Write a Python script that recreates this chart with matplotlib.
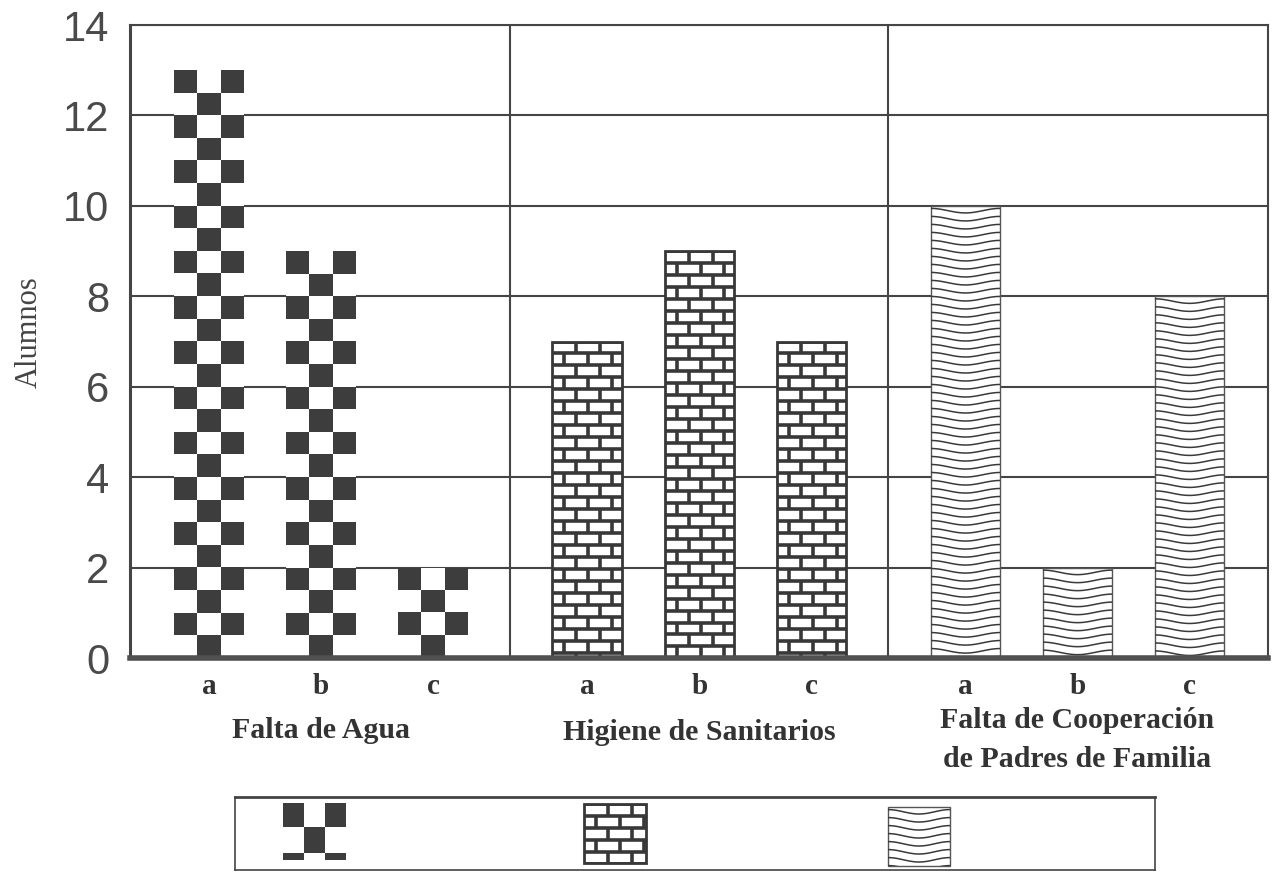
import numpy as np
import matplotlib
matplotlib.use('Agg')
import matplotlib.pyplot as plt
from matplotlib.collections import LineCollection
from matplotlib.patches import Rectangle
from matplotlib.transforms import blended_transform_factory

# datos
grupos = ['Falta de Agua', 'Higiene de Sanitarios',
          'Falta de Cooperación\nde Padres de Familia']
letras = ['a', 'b', 'c']
agua = [13, 9, 2]
higiene = [7, 9, 7]
cooperacion = [10, 2, 8]
yticks = [0, 2, 4, 6, 8, 10, 12, 14]

DARK = '#3d3d3d'
LINE = '#383838'
GRID = '#454545'
SERIF = 'Liberation Serif'
SANS = 'Liberation Sans'


# rellenos de las barras (cuadros, ladrillos, ondas)
def checker(ax, p, ch):
    x0, y0, w, h = p.get_x(), p.get_y(), p.get_width(), p.get_height()
    nrow = int(np.ceil(h / ch))
    r, c = np.indices((nrow, 3))
    dark = np.array(matplotlib.colors.to_rgb(DARK))
    img = np.where(((r + c) % 2 == 0)[..., None], dark, np.ones(3))
    top = y0 + h
    im = ax.imshow(img, extent=(x0, x0 + w, top - nrow * ch, top), aspect='auto',
                   interpolation='nearest', zorder=p.get_zorder() + 0.1)
    im.set_clip_path(p)


def bricks(ax, p, bw, rh, lw):
    x0, y0, w, h = p.get_x(), p.get_y(), p.get_width(), p.get_height()
    top = y0 + h
    n = int(np.ceil(h / rh))
    segs = []
    for k in range(n + 1):
        y = top - k * rh
        segs.append([(x0, y), (x0 + w, y)])
        if k < n:
            off = bw if k % 2 == 0 else bw / 2
            for xv in np.arange(x0 + off, x0 + w, bw):
                segs.append([(xv, y), (xv, y - rh)])
    lc = LineCollection(segs, colors=LINE, linewidths=lw, zorder=p.get_zorder() + 0.1)
    ax.add_collection(lc)
    lc.set_clip_path(p)


def waves(ax, p, gap, amp, lw):
    x0, y0, w, h = p.get_x(), p.get_y(), p.get_width(), p.get_height()
    top = y0 + h
    xs = np.linspace(x0, x0 + w, 80)
    n = int(np.ceil(h / gap))
    segs = [np.column_stack([xs, top - (k + 0.6) * gap + amp * np.cos(2 * np.pi * (xs - x0) / w)])
            for k in range(n)]
    lc = LineCollection(segs, colors='#3a3a3a', linewidths=1.1, zorder=p.get_zorder() + 0.1)
    ax.add_collection(lc)
    lc.set_clip_path(p)


fig = plt.figure(figsize=(12.74, 8.72), dpi=100)
ax = fig.add_axes([130 / 1274, 1 - 658 / 872, 1138 / 1274, 633 / 872])

paso = 3.375
ancho = 0.62
series = [agua, higiene, cooperacion]
xpos = []
for g, vals in enumerate(series):
    x = g * paso + np.arange(len(vals))
    xpos.extend(x)
    bars = ax.bar(x, vals, width=ancho, color='white', zorder=1.5,
                  edgecolor=[DARK, LINE, '#555'][g], linewidth=[0, 2.0, 1.0][g])
    for b in bars:
        if g == 0:
            checker(ax, b, 0.5)
        elif g == 1:
            bricks(ax, b, 0.214, 0.265, 2.6)
        else:
            waves(ax, b, 0.177, 0.05, 1.0)

# separadores entre grupos
for g in range(1, len(series)):
    ax.axvline((g - 1) * paso + 2 + (paso - 2) / 2, color=GRID, lw=1.5, zorder=0.5)

ax.set_xlim(-0.705, 2 * paso + 2 + 0.7)
ax.set_ylim(0, 14)
ax.set_yticks(yticks)
ax.set_yticklabels([str(t) for t in yticks], fontsize=30, color='#4a4a4a', family=SANS)
ax.set_xticks(xpos)
ax.set_xticklabels(letras * 3, fontsize=21, fontweight='bold', family=SERIF, color='#333')
ax.tick_params(axis='y', length=0, pad=15)
ax.tick_params(axis='x', length=0, pad=11)
ax.set_axisbelow(True)
ax.yaxis.grid(True, color=GRID, lw=1.5)

for s in ['top', 'right', 'left']:
    ax.spines[s].set_color(GRID)
    ax.spines[s].set_linewidth(1.5)
ax.spines['left'].set_linewidth(2.2)
ax.spines['bottom'].set_color('#505050')
ax.spines['bottom'].set_linewidth(4)

ax.text(-0.0885, 0.515, 'Alumnos', transform=ax.transAxes, rotation=90,
        ha='center', va='center', fontsize=22, family=SERIF, color='#444')

tr = blended_transform_factory(ax.transData, ax.transAxes)
ypos_grupo = [-0.1153, -0.1175, -0.1295]
for g, nombre in enumerate(grupos):
    ax.text(g * paso + 1, ypos_grupo[g], nombre, transform=tr, ha='center', va='center',
            fontsize=21.5, fontweight='bold', family=SERIF, color='#333', linespacing=1.6)

# leyenda (solo muestras de relleno)
lg = fig.add_axes([235 / 1274, 2 / 872, 920 / 1274, 73 / 872])
lg.set_xlim(0, 920)
lg.set_ylim(0, 73)
lg.set_xticks([])
lg.set_yticks([])
for s in lg.spines.values():
    s.set_color('#444')
    s.set_linewidth(1.2)
lg.spines['top'].set_linewidth(2)

sw1 = lg.add_patch(Rectangle((48, 10), 63, 57, facecolor='white', lw=0, zorder=1.5))
checker(lg, sw1, 25)
sw2 = lg.add_patch(Rectangle((349, 7), 62, 59, facecolor='white', edgecolor=LINE, lw=2.0, zorder=1.5))
bricks(lg, sw2, 24, 12, 2.6)
sw3 = lg.add_patch(Rectangle((653, 4), 62, 59, facecolor='white', edgecolor='#555', lw=1.0, zorder=1.5))
waves(lg, sw3, 8, 2.2, 1.0)

fig.savefig('out.png', dpi=100)
